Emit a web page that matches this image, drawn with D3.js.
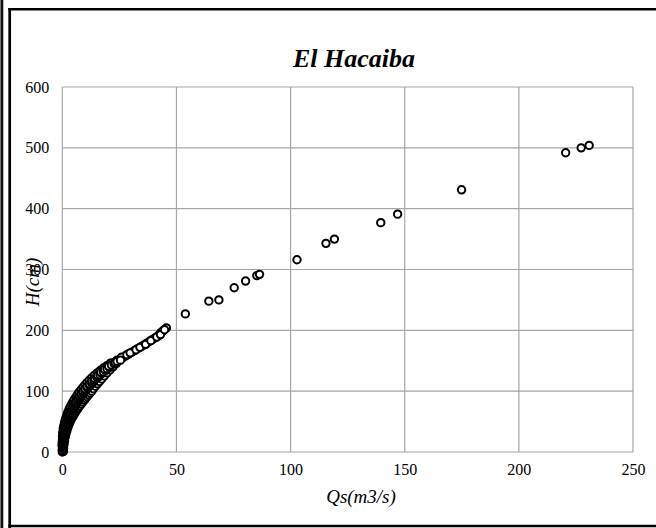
<!DOCTYPE html>
<html>
<head>
<meta charset="utf-8">
<script src="https://cdn.jsdelivr.net/npm/d3@7/dist/d3.min.js"></script>
<style>
  html, body { margin: 0; padding: 0; background: #fff; }
  svg { display: block; }
  text { font-family: "Liberation Serif", "Times New Roman", serif; }
</style>
</head>
<body>
<svg id="chart" width="656" height="528"></svg>
<script>
// Discharge Qs (m3/s) and stage H (cm) observations at El Hacaiba
const qValues = [
  0.0, 0.1, 0.0, 0.2, 0.1, 0.3, 0.0, 0.2, 0.4, 0.1, 0.3, 0.5, 0.2, 0.4, 0.6, 0.1,
  0.3, 0.7, 0.5, 0.2, 0.8, 0.4, 0.6, 1.0, 0.3, 0.7, 1.2, 0.5, 0.9, 1.4, 0.7, 1.2,
  1.7, 0.9, 1.4, 2.0, 1.1, 1.6, 2.3, 1.3, 1.9, 2.6, 1.5, 2.2, 2.9, 1.8, 2.5, 3.3,
  2.1, 2.8, 3.6, 2.4, 3.1, 4.0, 2.7, 3.5, 4.4, 3.0, 3.9, 4.8, 3.4, 4.3, 5.3, 3.8,
  4.7, 5.8, 4.2, 5.2, 6.3, 4.7, 5.7, 6.8, 5.2, 6.2, 7.4, 5.7, 6.8, 8.0, 6.3, 7.4,
  8.6, 6.9, 8.0, 9.2, 7.5, 8.6, 9.8, 8.1, 9.3, 10.5, 8.8, 10.0, 11.2, 9.5, 10.7,
  11.9, 10.2, 11.4, 12.6, 11.0, 12.2, 13.4, 11.9, 13.1, 14.3, 12.8, 14.1, 15.3,
  13.9, 15.2, 16.4, 15.1, 16.5, 17.7, 16.4, 17.9, 19.1, 17.9, 19.4, 20.6, 19.6,
  21.1, 22.4, 21.6, 23.1, 24.6, 25.3, 26.5, 27.8, 29.0, 30.5, 31.8, 33.0, 34.5,
  35.8, 37.0, 38.3, 39.5, 40.8, 42.0, 42.9, 43.5, 44.3, 45.6,
  0.5, 0.3, 0.6, 0.4, 0.8, 0.6, 1.0, 0.9, 1.3, 1.1, 1.6, 1.5, 2.0, 1.8, 2.4, 2.6,
  3.0, 3.3, 3.7, 4.1, 4.6, 5.0, 5.5, 6.0, 6.6, 7.1, 7.7, 8.3, 8.9, 9.6, 10.2, 10.8,
  11.5, 12.2, 12.9, 13.6, 14.5, 15.4, 16.3, 17.3, 18.4, 19.6, 20.9, 22.2, 23.6,
  0.0, 0.0, 0.1, 0.2, 0.4, 0.6, 0.9, 1.1, 1.4, 1.8, 2.1, 2.5, 3.0, 3.4, 4.0, 4.6,
  5.2, 5.9, 6.6, 7.3, 8.1, 9.0, 9.9, 10.8, 11.8, 12.9, 14.0, 15.3, 16.6, 18.0,
  19.6, 21.1,
  24.0, 26.0, 28.3, 29.7, 32.3, 34.0, 36.5, 38.8, 41.4, 43.0, 44.8,
  0.2, 0.1, 0.3, 0.2, 0.0, 0.3, 0.5, 0.2, 0.4, 0.6, 0.3, 0.5, 0.8, 0.4, 0.7, 1.0,
  0.6, 0.9, 1.2, 0.8, 1.1, 1.4, 1.0, 1.3, 1.7, 1.2, 1.6, 2.0, 1.5, 1.9, 2.3, 1.8,
  2.2, 2.7, 2.1, 2.6, 3.1, 2.5, 3.0, 3.5, 2.9, 3.4, 3.9, 3.3, 3.9, 4.4, 3.8, 4.4,
  4.9, 4.3, 4.9, 5.5, 4.9, 5.5, 6.1, 5.5, 6.1, 6.8, 6.1, 6.8, 7.5, 6.8, 7.5, 8.2,
  7.5, 8.3, 9.0, 8.3, 9.1, 9.8, 9.1, 9.9, 10.7, 10.0, 10.8, 11.6, 10.9, 11.8, 12.6,
  11.9, 12.8, 13.7, 13.0, 13.9, 14.8, 14.2, 15.1, 16.0, 15.5, 16.5, 17.4, 16.9,
  18.0, 19.0, 18.5, 19.6, 20.7, 20.3, 21.5, 22.7, 23.2, 24.0, 25.5,
  53.9, 64.2, 68.6, 75.3, 80.3, 85.2, 86.4, 102.8, 115.5, 119.2, 139.5, 146.9,
  174.9, 220.5, 227.3, 230.8
];
const hValues = [
  0, 2, 4, 5, 7, 8, 10, 11, 12, 14, 15, 16, 18, 19, 20, 21,
  22, 23, 24, 25, 26, 27, 28, 29, 30, 31, 32, 33, 34, 35, 36, 37,
  38, 39, 40, 41, 42, 43, 44, 45, 46, 47, 48, 49, 50, 51, 52, 53,
  54, 55, 56, 57, 58, 59, 60, 61, 62, 63, 64, 65, 66, 67, 68, 69,
  70, 71, 72, 73, 74, 75, 76, 77, 78, 79, 80, 81, 82, 83, 84, 85,
  86, 87, 88, 89, 90, 91, 92, 93, 94, 95, 96, 97, 98, 99, 100,
  101, 102, 104, 105, 106, 108, 109, 110, 112, 113, 114, 116, 118,
  119, 121, 123, 124, 126, 128, 129, 131, 133, 134, 136, 138, 140,
  142, 144, 146, 148, 150, 152, 155, 158, 161, 164, 167, 170, 173,
  176, 179, 182, 185, 188, 191, 195, 197, 200, 204,
  1, 3, 6, 9, 13, 17, 19, 22, 25, 28, 30, 33, 35, 38, 40, 43,
  46, 49, 52, 55, 58, 61, 64, 67, 70, 73, 76, 79, 82, 85, 88, 91,
  94, 97, 100, 104, 108, 112, 116, 120, 125, 130, 135, 140, 145,
  13, 17, 26, 32, 38, 42, 46, 50, 54, 58, 62, 66, 70, 74, 78, 82,
  86, 90, 94, 98, 102, 106, 110, 114, 118, 122, 126, 130, 134, 138,
  142, 146,
  151, 156, 160, 163, 168, 172, 177, 183, 189, 193, 201,
  1, 3, 6, 9, 11, 13, 14, 16, 17, 18, 20, 21, 22, 24, 25, 27,
  28, 29, 30, 31, 33, 34, 36, 37, 39, 40, 41, 42, 44, 45, 47, 48,
  49, 51, 52, 53, 55, 56, 57, 59, 60, 61, 63, 64, 65, 67, 68, 69,
  71, 72, 73, 75, 76, 77, 79, 80, 81, 83, 84, 85, 87, 88, 89, 91,
  92, 93, 95, 96, 97, 99, 100, 101, 103, 104, 106, 107, 108, 110, 111,
  112, 114, 115, 117, 118, 120, 121, 123, 124, 126, 127, 129, 131,
  132, 134, 136, 137, 139, 141, 143, 145, 147, 149, 151,
  227, 248, 250, 270, 281, 290, 292, 316, 343, 350, 377, 391,
  431, 492, 500, 504
];
const xTicks = [0, 50, 100, 150, 200, 250];
const yTicks = [0, 100, 200, 300, 400, 500, 600];
const chartTitle = "El Hacaiba";
const xTitle = "Qs(m3/s)";
const yTitle = "H(cm)";

const points = qValues.map((q, i) => ({ q, h: hValues[i] }));

const svg = d3.select("#chart");
const W = 656, H = 528;
const plot = { left: 62.3, right: 633, top: 87, bottom: 452 };

const x = d3.scaleLinear().domain([0, 250]).range([plot.left, plot.right]);
const y = d3.scaleLinear().domain([0, 600]).range([plot.bottom, plot.top]);

// page frame: outer stripe on the left and the chart box border
svg.append("rect").attr("x", 0).attr("y", 0).attr("width", 1).attr("height", H).attr("fill", "#777");
svg.append("rect").attr("x", 1).attr("y", 0).attr("width", 2.3).attr("height", H).attr("fill", "#111");
svg.append("line").attr("x1", 9.7).attr("x2", 9.7).attr("y1", 8).attr("y2", 528)
  .attr("stroke", "#000").attr("stroke-width", 2.7);
svg.append("line").attr("x1", 8.3).attr("x2", W).attr("y1", 9.2).attr("y2", 9.2)
  .attr("stroke", "#000").attr("stroke-width", 2.5);
svg.append("line").attr("x1", 8.3).attr("x2", W).attr("y1", 526).attr("y2", 526)
  .attr("stroke", "#000").attr("stroke-width", 2.6);

// gridlines
const grid = svg.append("g").attr("stroke", "#a6a6a6").attr("stroke-width", 1.2);
grid.selectAll("line.v").data(xTicks).join("line")
  .attr("x1", d => x(d)).attr("x2", d => x(d))
  .attr("y1", plot.top).attr("y2", plot.bottom);
grid.selectAll("line.h").data(yTicks).join("line")
  .attr("x1", plot.left).attr("x2", plot.right)
  .attr("y1", d => y(d)).attr("y2", d => y(d));

// axes (labels only; lines come from the grid)
const xAxis = d3.axisBottom(x).tickValues(xTicks).tickSize(0).tickPadding(12);
const yAxis = d3.axisLeft(y).tickValues(yTicks).tickSize(0).tickPadding(13);

const gx = svg.append("g").attr("transform", `translate(0,${plot.bottom})`).call(xAxis);
const gy = svg.append("g").attr("transform", `translate(${plot.left},0)`).call(yAxis);
[gx, gy].forEach(g => {
  g.select(".domain").remove();
  g.selectAll("text")
    .attr("font-family", "'Liberation Serif', 'Times New Roman', serif")
    .attr("font-size", 16).attr("fill", "#000");
});

// observations
svg.append("g").selectAll("circle").data(points).join("circle")
  .attr("cx", d => x(d.q)).attr("cy", d => y(d.h)).attr("r", 3.7)
  .attr("fill", "#fff").attr("stroke", "#000").attr("stroke-width", 2);

// titles
svg.append("text").attr("x", 354).attr("y", 67).attr("text-anchor", "middle")
  .attr("font-size", 26).attr("font-weight", "bold").attr("font-style", "italic")
  .text(chartTitle);
svg.append("text").attr("x", 361).attr("y", 503).attr("text-anchor", "middle")
  .attr("font-size", 19).attr("font-style", "italic").text(xTitle);
svg.append("text").attr("transform", "translate(39,282) rotate(-90)")
  .attr("text-anchor", "middle").attr("font-size", 19).attr("font-style", "italic")
  .text(yTitle);
</script>
</body>
</html>
